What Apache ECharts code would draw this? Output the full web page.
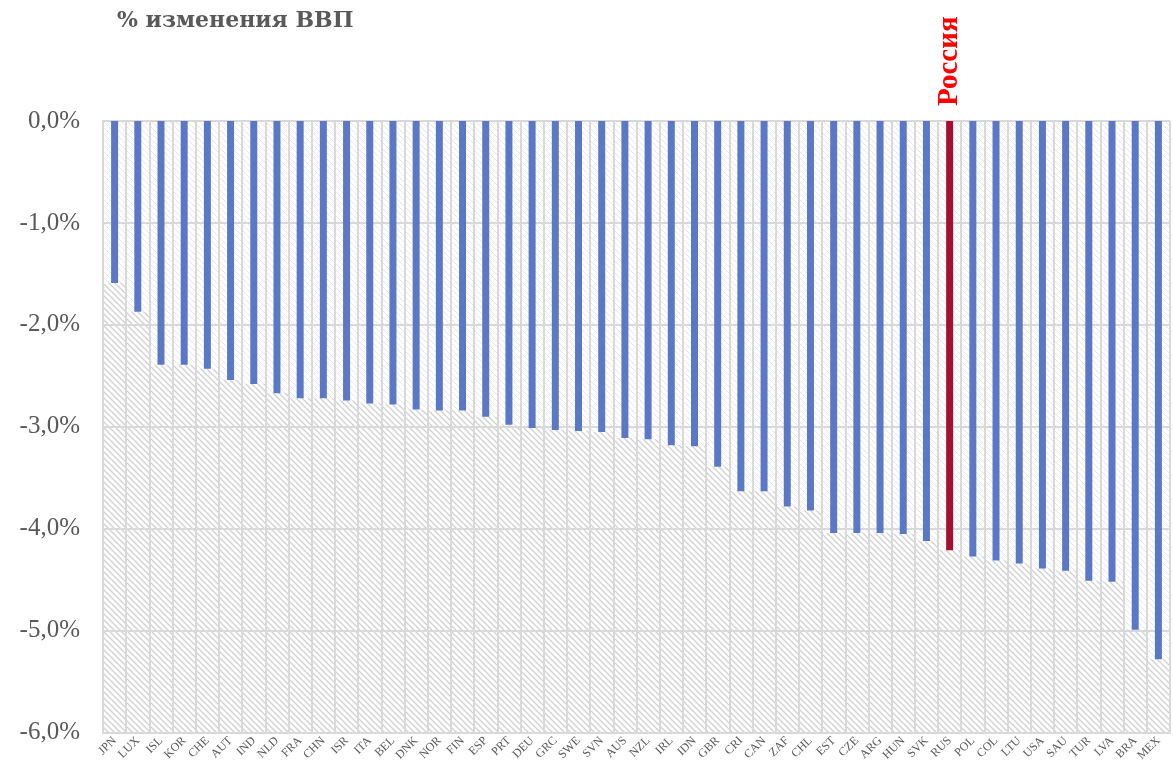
<!DOCTYPE html>
<html>
<head>
<meta charset="utf-8">
<script src="https://cdn.jsdelivr.net/npm/echarts@6/dist/echarts.min.js"></script>
<style>
  html, body { margin: 0; padding: 0; background: #fff; }
  #main { width: 1173px; height: 764px; }
</style>
</head>
<body>
<div id="main"></div>
<script>
// страны (по возрастанию падения ВВП)
var countries = ['JPN', 'LUX', 'ISL', 'KOR', 'CHE', 'AUT', 'IND', 'NLD', 'FRA', 'CHN', 'ISR', 'ITA',
    'BEL', 'DNK', 'NOR', 'FIN', 'ESP', 'PRT', 'DEU', 'GRC', 'SWE', 'SVN', 'AUS', 'NZL', 'IRL', 'IDN',
    'GBR', 'CRI', 'CAN', 'ZAF', 'CHL', 'EST', 'CZE', 'ARG', 'HUN', 'SVK', 'RUS', 'POL', 'COL', 'LTU',
    'USA', 'SAU', 'TUR', 'LVA', 'BRA', 'MEX'];
// % изменения ВВП
var gdpChange = [-1.59, -1.87, -2.39, -2.39, -2.43, -2.54, -2.58, -2.67, -2.72, -2.72, -2.74, -2.77,
    -2.78, -2.83, -2.84, -2.84, -2.90, -2.98, -3.01, -3.03, -3.04, -3.05, -3.11, -3.12, -3.18, -3.19,
    -3.39, -3.63, -3.63, -3.78, -3.82, -4.04, -4.04, -4.04, -4.05, -4.12, -4.21, -4.27, -4.31, -4.34,
    -4.39, -4.41, -4.51, -4.52, -4.99, -5.28];
var highlight = 'RUS';
var yMin = -6;

// штриховка
function hatch(color, lw) {
    var c = document.createElement('canvas');
    c.width = 6; c.height = 6;
    var ctx = c.getContext('2d');
    ctx.strokeStyle = color;
    ctx.lineWidth = lw;
    ctx.beginPath();
    ctx.moveTo(-1, -1); ctx.lineTo(7, 7);
    ctx.moveTo(5, -1); ctx.lineTo(7, 1);
    ctx.moveTo(-1, 5); ctx.lineTo(1, 7);
    ctx.stroke();
    return c;
}
var lightHatch = { image: hatch('#e6e6e6', 1), repeat: 'repeat' };
var darkHatch = { image: hatch('#d0d0d0', 1.3), repeat: 'repeat' };

var barData = [];
var baseData = [];
var restData = [];
for (var i = 0; i < countries.length; i++) {
    var item = { value: gdpChange[i] };
    if (countries[i] === highlight) {
        item.itemStyle = { color: '#a50f33' };
        item.label = {
            show: true,
            position: 'top',
            rotate: 90,
            align: 'left',
            verticalAlign: 'middle',
            distance: 15,
            formatter: 'Россия',
            color: '#ff0000',
            fontFamily: 'Liberation Serif',
            fontWeight: 'bold',
            fontSize: 29
        };
    }
    barData.push(item);
    baseData.push(gdpChange[i]);
    restData.push(+(yMin - gdpChange[i]).toFixed(2));
}

var myChart = echarts.init(document.getElementById('main'));
var gridColor = '#d9d9d9';
var option = {
    animation: false,
    title: {
        text: '% изменения ВВП',
        left: 112,
        top: 5,
        textStyle: {
            fontFamily: 'DejaVu Serif',
            fontWeight: 'bold',
            fontSize: 22,
            color: '#595959'
        }
    },
    grid: {
        left: 103,
        right: 3,
        top: 121,
        bottom: 27,
        show: true,
        borderWidth: 0,
        backgroundColor: lightHatch
    },
    xAxis: [{
        type: 'category',
        data: countries,
        z: 1,
        axisLine: { show: true, onZero: false, lineStyle: { color: gridColor, width: 2 } },
        axisTick: { show: false },
        splitLine: { show: true, lineStyle: { color: gridColor, width: 2 } },
        axisLabel: {
            interval: 0,
            rotate: 45,
            margin: 6,
            fontFamily: 'Liberation Serif',
            fontSize: 12,
            color: '#595959'
        }
    }, {
        type: 'category',
        data: countries,
        show: false
    }],
    yAxis: {
        type: 'value',
        min: yMin,
        max: 0,
        interval: 1,
        z: 1,
        axisLine: { show: true, lineStyle: { color: gridColor, width: 2 } },
        axisTick: { show: false },
        splitLine: { show: true, lineStyle: { color: gridColor, width: 2 } },
        axisLabel: {
            margin: 23,
            fontFamily: 'Liberation Serif',
            fontSize: 25,
            color: '#595959',
            formatter: function (v) {
                return v.toFixed(1).replace('.', ',') + '%';
            }
        }
    },
    series: [{
        name: 'base',
        type: 'bar',
        xAxisIndex: 1,
        stack: 'h',
        barWidth: '100%',
        z: 0,
        silent: true,
        itemStyle: { color: 'rgba(0,0,0,0)' },
        data: baseData
    }, {
        name: 'rest',
        type: 'bar',
        xAxisIndex: 1,
        stack: 'h',
        barWidth: '100%',
        z: 0,
        silent: true,
        itemStyle: { color: darkHatch },
        data: restData
    }, {
        name: '% изменения ВВП',
        type: 'bar',
        xAxisIndex: 0,
        barWidth: 7,
        z: 3,
        itemStyle: { color: '#5b78c7' },
        data: barData
    }]
};
myChart.setOption(option);
</script>
</body>
</html>
